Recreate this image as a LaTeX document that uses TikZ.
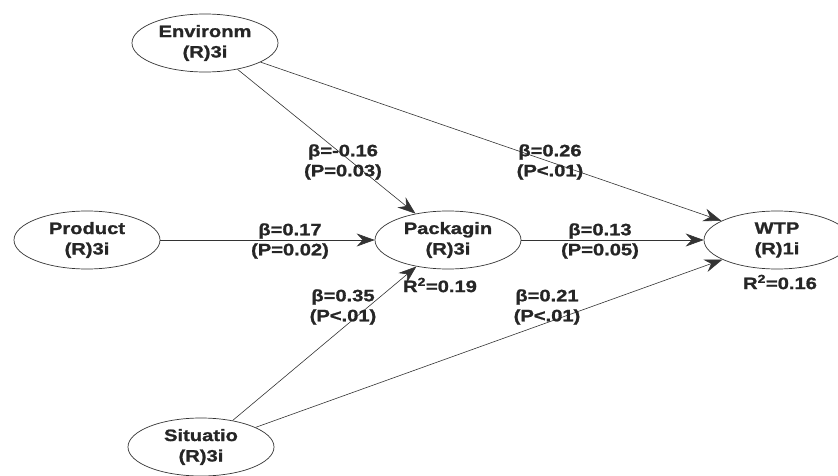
\documentclass[tikz,border=0pt]{standalone}
\usepackage{fontspec}
\setmainfont[FakeStretch=1.22,FakeBold=1.2]{Liberation Sans}
\usetikzlibrary{shapes.geometric,arrows.meta}
\begin{document}
\begin{tikzpicture}[x=1pt,y=-1pt,
  lv/.style={ellipse,draw=black!80,line width=0.7pt,minimum width=146pt,minimum height=58pt,inner sep=0pt,
    align=center,font=\fontsize{16.5}{20.5}\selectfont\bfseries,text=black!85},
  lab/.style={align=center,font=\fontsize{16.5}{20}\selectfont\bfseries,text=black!85,inner sep=0pt},
  path/.style={draw=black!80,line width=0.6pt,-{Stealth[length=18pt,width=13pt,inset=6pt]}}]
\path[use as bounding box] (0,0) rectangle (838,476);
\clip (0,0) rectangle (838,476);
\node[lv] (env) at (205,43) {Environm\\(R)3i};
\node[lv] (prod) at (87,240) {Product\\(R)3i};
\node[lv] (pack) at (448,240) {Packagin\\(R)3i};
\node[lv] (wtp) at (777,240) {WTP\\(R)1i};
\node[lv] (sit) at (201,447) {Situatio\\(R)3i};
\draw[path] (env) -- (pack);
\draw[path] (env) -- (wtp);
\draw[path] (prod) -- (pack);
\draw[path] (pack) -- (wtp);
\draw[path] (sit) -- (pack);
\draw[path] (sit) -- (wtp);
\node[lab] (l1) at (343,162) {β=-0.16\\(P=0.03)};
\node[lab] (l2) at (550,162) {β=0.26\\(P<.01)};
\node[lab] (l3) at (290,241) {β=0.17\\(P=0.02)};
\node[lab] (l4) at (600,241) {β=0.13\\(P=0.05)};
\node[lab] (l5) at (343,307) {β=0.35\\(P<.01)};
\node[lab] (l6) at (547,307) {β=0.21\\(P<.01)};
\node[lab] (r1) at (440,285) {R\textsuperscript{2}=0.19};
\node[lab] (r2) at (780,282) {R\textsuperscript{2}=0.16};
\end{tikzpicture}
\end{document}
